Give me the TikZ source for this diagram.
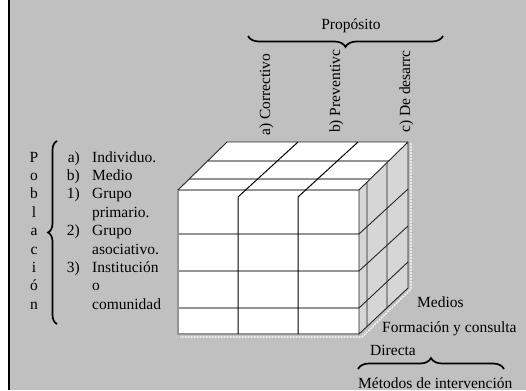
\documentclass[tikz,border=0pt]{standalone}
\usepackage{fontspec}
\setmainfont{Liberation Serif}
\usetikzlibrary{decorations.pathreplacing}
\definecolor{bggray}{HTML}{C0C0C0}
\definecolor{sidegray}{HTML}{D6D6D6}
\begin{document}
\begin{tikzpicture}[x=1pt,y=-1pt,
  lbl/.style={inner sep=0pt, font=\fontsize{15.5}{18}\selectfont},
  gridline/.style={draw=black!42, line width=1.1pt},
  edgeline/.style={draw=black!85, line width=0.9pt},
  divider/.style={draw=black, line width=1pt},
  brc/.style={decorate, decoration={brace, amplitude=#1}, line width=1.7pt}]
\useasboundingbox (0,0) rectangle (526,390);
% page background and left rule
\fill[white] (0,0) rectangle (8,390);
\fill[bggray] (8,0) rectangle (526,390);
\draw[line width=1.6pt] (8.8,0) -- (8.8,390);

% cube faces
\fill[white] (178,190) rectangle (359,334);
\fill[white] (178,190) -- (227,142) -- (408,142) -- (359,190) -- cycle;
\fill[sidegray] (359,190) -- (408,142) -- (408,288) -- (359,334) -- cycle;
% light rim along the base
\draw[white, line width=1.2pt, dash pattern=on 2pt off 1pt]
  (411,143) -- (411,289) -- (362,337) -- (180,337);

% front face rows and frame
\draw[gridline] (178,234) -- (359,234);
\draw[gridline] (178,271) -- (359,271);
\draw[gridline] (178,308) -- (359,308);
\draw[gridline] (359,190) -- (178,190) -- (178,334) -- (359,334);
% top face depth lines
\draw[gridline] (189,179) -- (370,179);
\draw[gridline] (208,161) -- (389,161);
% side face depth lines
\draw[gridline] (367,182) -- (367,326.5);
\draw[gridline] (387,162.6) -- (387,307.7);

% outer edges
\draw[edgeline] (178,190) -- (227,142) -- (408,142) -- (408,288) -- (359,334) -- (359,190) -- (408,142);
% side face rows
\draw[edgeline] (359,234) -- (408,189);
\draw[edgeline] (359,271) -- (408,226);
\draw[edgeline] (359,308) -- (408,262);
% column dividers
\draw[divider] (238,334) -- (238,197) -- (298,142);
\draw[divider] (298,334) -- (298,197) -- (358,142);

% purpose axis
\node[lbl, anchor=base] (prop) at (351,30) {Propósito};
\coordinate (propL) at (248,36);
\coordinate (propR) at (443,36);
\draw[brc=11pt] (propR) -- (propL);
\node[lbl, rotate=90, anchor=base west] (pa) at (270,136) {a) Correctivo};
\node[lbl, rotate=90, anchor=base west] (pb) at (340,133) {b) Preventivc};
\node[lbl, rotate=90, anchor=base west] (pc) at (410,133) {c) De desarrc};

% population axis
\foreach \ch [count=\i from 0] in {P,o,b,l,a,c,i,ó,n}
  \node[lbl, anchor=base] (pob\i) at (34,162+18.4*\i) {\ch};
\coordinate (pobT) at (57,141);
\coordinate (pobB) at (57,324);
\draw[brc=9pt] (pobB) -- (pobT);
\node[lbl, anchor=base east] (la) at (80,162) {a)};
\node[lbl, anchor=base east] (lb) at (80,180.4) {b)};
\node[lbl, anchor=base east] (l1) at (80,198.8) {1)};
\node[lbl, anchor=base east] (l2) at (80,235.6) {2)};
\node[lbl, anchor=base east] (l3) at (80,272.4) {3)};
\node[lbl, anchor=base west] (ta) at (92,162) {Individuo.};
\node[lbl, anchor=base west] (tb) at (92,180.4) {Medio};
\node[lbl, anchor=base west] (t1a) at (92,198.8) {Grupo};
\node[lbl, anchor=base west] (t1b) at (92,217.2) {primario.};
\node[lbl, anchor=base west] (t2a) at (92,235.6) {Grupo};
\node[lbl, anchor=base west] (t2b) at (92,254) {asociativo.};
\node[lbl, anchor=base west] (t3a) at (92,272.4) {Institución};
\node[lbl, anchor=base west] (t3b) at (92,290.8) {o};
\node[lbl, anchor=base west] (t3c) at (92,309.2) {comunidad};

% methods axis
\node[lbl, anchor=base west] (mm) at (417,307) {Medios};
\node[lbl, anchor=base west] (mf) at (382,332) {Formación y consulta};
\node[lbl, anchor=base west] (md) at (370,355) {Directa};
\coordinate (metL) at (358,369);
\coordinate (metR) at (504,369);
\draw[brc=11pt] (metL) -- (metR);
\node[lbl, anchor=base west] (met) at (358,388) {Métodos de intervención};
\end{tikzpicture}
\end{document}
